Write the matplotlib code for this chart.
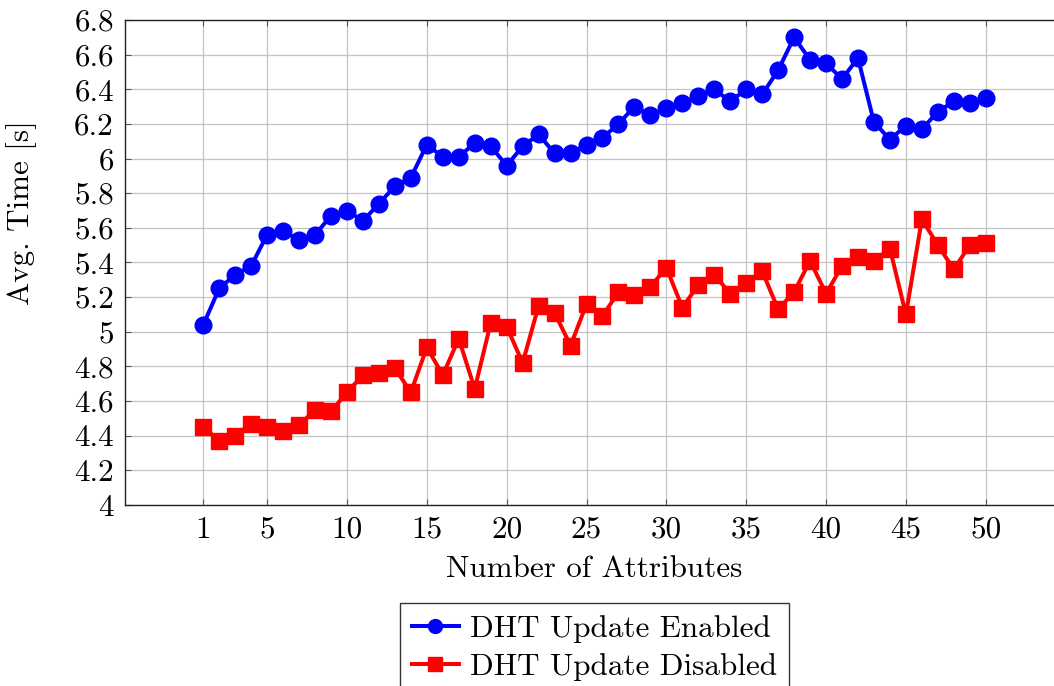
import matplotlib
matplotlib.use("Agg")
import matplotlib.pyplot as plt

plt.rcParams['font.family'] = ['cmr10', 'DejaVu Serif']
plt.rcParams['axes.formatter.use_mathtext'] = True

attributes = list(range(1, 51))

dht_enabled = [
    5.04, 5.25, 5.33, 5.38, 5.56, 5.58, 5.53, 5.56, 5.67, 5.70,
    5.64, 5.74, 5.84, 5.89, 6.08, 6.01, 6.01, 6.09, 6.07, 5.96,
    6.07, 6.14, 6.03, 6.03, 6.08, 6.12, 6.20, 6.30, 6.25, 6.29,
    6.32, 6.36, 6.40, 6.33, 6.40, 6.37, 6.51, 6.70, 6.57, 6.55,
    6.46, 6.58, 6.21, 6.11, 6.19, 6.17, 6.27, 6.33, 6.32, 6.35,
]

dht_disabled = [
    4.45, 4.37, 4.40, 4.47, 4.45, 4.43, 4.46, 4.55, 4.54, 4.65,
    4.75, 4.76, 4.79, 4.65, 4.91, 4.75, 4.96, 4.67, 5.05, 5.03,
    4.82, 5.15, 5.11, 4.92, 5.16, 5.09, 5.23, 5.21, 5.26, 5.37,
    5.14, 5.27, 5.33, 5.22, 5.28, 5.35, 5.13, 5.23, 5.41, 5.22,
    5.38, 5.43, 5.41, 5.48, 5.10, 5.65, 5.50, 5.36, 5.50, 5.51,
]

x_ticks = [1, 5, 10, 15, 20, 25, 30, 35, 40, 45, 50]
y_ticks = [4.0, 4.2, 4.4, 4.6, 4.8, 5.0, 5.2, 5.4, 5.6, 5.8, 6.0, 6.2, 6.4, 6.6, 6.8]
y_tick_labels = ['4', '4.2', '4.4', '4.6', '4.8', '5', '5.2', '5.4', '5.6',
                 '5.8', '6', '6.2', '6.4', '6.6', '6.8']

W, H = 1054, 686
FS = 22.4
fig = plt.figure(figsize=(W / 100, H / 100), dpi=100)
# axis runs past the right edge of the canvas, like the cropped original
ax = fig.add_axes([125 / W, (H - 505) / H, 939 / W, 485 / H])

ax.plot(attributes, dht_enabled, color='blue', linewidth=2.9, marker='o',
        markersize=12, label='DHT Update Enabled', zorder=3)
ax.plot(attributes, dht_disabled, color='red', linewidth=2.9, marker='s',
        markersize=11, label='DHT Update Disabled', zorder=3)

ax.set_xlim(-3.9, 54.9)
ax.set_ylim(4.0, 6.8)
ax.set_xticks(x_ticks)
ax.set_xticklabels([str(t) for t in x_ticks])
ax.set_yticks(y_ticks)
ax.set_yticklabels(y_tick_labels)

ax.grid(True, color='#c4c4c4', linewidth=0.9)
ax.set_axisbelow(True)
ax.tick_params(direction='in', length=4, width=0.8, color='#555555',
               top=True, right=True, labelsize=FS, pad=8)
for sp in ax.spines.values():
    sp.set_color('#222222')
    sp.set_linewidth(1.0)

ax.set_xlabel('Number of Attributes', fontsize=FS, labelpad=9)
ax.set_ylabel('Avg. Time [s]', fontsize=FS)
ax.yaxis.set_label_coords((37 - 125) / 939, (505 - 213) / 485)

leg = ax.legend(loc='upper center', bbox_to_anchor=(0.5, -0.202), ncol=1,
                fontsize=FS, frameon=True, fancybox=False, edgecolor='black',
                handlelength=1.5, handletextpad=0.35, borderpad=0.4,
                labelspacing=0.3, borderaxespad=0)
leg.get_frame().set_linewidth(1.0)
for h in leg.legend_handles:
    h.set_markersize(10)

fig.savefig('out.png', dpi=100)
